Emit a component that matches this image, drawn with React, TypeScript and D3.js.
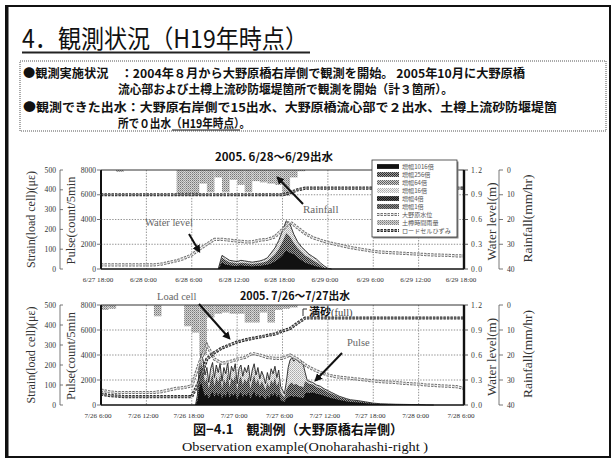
import React from 'react';
import * as d3 from 'd3';

const W = 613;
const H = 462;
const FONT_JP = '"Noto Sans CJK JP", "Noto Sans", sans-serif';
const FONT_SERIF = '"Liberation Serif", "DejaVu Serif", serif';

// Time axis: hours from the start of each 48-hour window
const hours = d3.range(49);
const xLabels1 = ['6/27 18:00', '6/28 0:00', '6/28 6:00', '6/28 12:00', '6/28 18:00', '6/29 0:00', '6/29 6:00', '6/29 12:00', '6/29 18:00'];
const xLabels2 = ['7/26 6:00', '7/26 12:00', '7/26 18:00', '7/27 0:00', '7/27 6:00', '7/27 12:00', '7/27 18:00', '7/28 0:00', '7/28 6:00'];

// Hourly rainfall (mm/hr), Dotaru gauge
const rainHours1 = [2, 10, 11, 12, 13, 14, 15, 16, 17, 18, 19, 20, 21, 22, 23, 24, 25, 26];
const rain1 = [0.8, 10.5, 10.5, 10.5, 5.5, 9, 3, 9, 4, 6, 9, 4.5, 5, 5.5, 6, 10.5, 3, 0.5];
const rainHours2 = [0, 1, 7, 11, 12, 13, 14, 15, 16, 17, 18, 19, 20, 21, 22, 23, 24, 25];
const rain2 = [2, 1.5, 4.5, 8.5, 11, 20, 5, 3.5, 3, 3.5, 3.5, 7, 7, 3, 7, 2, 1.5, 1];

// Onohara water level (m), hourly
const level1 = [0.05, 0.05, 0.05, 0.05, 0.05, 0.05, 0.05, 0.05, 0.06, 0.08, 0.10, 0.13, 0.17, 0.24, 0.30, 0.36, 0.36, 0.35, 0.34, 0.33, 0.33, 0.35, 0.36, 0.39, 0.48, 0.57, 0.50, 0.43, 0.38, 0.35, 0.32, 0.30, 0.28, 0.26, 0.245, 0.23, 0.215, 0.205, 0.20, 0.195, 0.19, 0.185, 0.18, 0.175, 0.17, 0.168, 0.165, 0.16, 0.16];
const level2 = [0.18, 0.16, 0.15, 0.15, 0.15, 0.15, 0.15, 0.15, 0.16, 0.18, 0.20, 0.21, 0.23, 0.50, 0.72, 0.55, 0.50, 0.52, 0.55, 0.57, 0.62, 0.60, 0.57, 0.56, 0.56, 0.60, 0.55, 0.48, 0.43, 0.39, 0.36, 0.34, 0.33, 0.32, 0.31, 0.30, 0.29, 0.28, 0.275, 0.27, 0.26, 0.255, 0.25, 0.24, 0.235, 0.23, 0.225, 0.22, 0.20];

// Load-cell strain (micro-strain), hourly
const strain1 = [375, 375, 375, 375, 375, 375, 375, 375, 375, 375, 375, 375, 375, 375, 375, 375, 375, 375, 375, 375, 375, 375, 375, 375, 375, 385, 400, 408, 408, 408, 408, 408, 408, 408, 408, 408, 408, 408, 408, 408, 408, 408, 408, 408, 408, 408, 408, 408, 408];
const strain2 = [55, 48, 45, 42, 42, 42, 42, 42, 42, 42, 42, 42, 42, 120, 230, 262, 285, 300, 315, 325, 333, 340, 348, 355, 370, 382, 410, 435, 435, 435, 435, 435, 435, 435, 435, 435, 435, 435, 435, 435, 435, 435, 435, 435, 435, 435, 435, 435, 435];

// Pulse counts (count/5min): outer envelope, dark-hatch level, black core level
const pulseHours1 = [15.5, 16, 16.5, 17, 17.5, 18, 18.5, 19, 19.5, 20, 20.5, 21, 21.5, 22, 22.5, 23, 23.5, 24, 24.5, 25, 25.5, 26, 26.5, 27, 27.5, 28, 28.5, 29, 29.5, 30, 30.5];
const pulseTotal1 = [0, 1100, 900, 700, 650, 600, 700, 650, 600, 550, 600, 650, 750, 900, 1300, 1700, 2300, 3100, 3900, 3600, 2800, 2200, 1800, 1500, 1200, 1000, 800, 500, 250, 60, 0];
const pulseMid1 = [0, 900, 700, 550, 500, 450, 500, 480, 450, 400, 450, 480, 550, 650, 900, 1200, 1600, 2200, 2900, 2600, 2100, 1700, 1400, 1100, 900, 700, 550, 350, 150, 30, 0];
const pulseCore1 = [0, 500, 350, 300, 250, 250, 300, 250, 250, 200, 250, 250, 300, 350, 450, 600, 800, 1100, 1500, 1300, 1200, 900, 700, 500, 400, 300, 200, 120, 60, 10, 0];

const pulseHours2 = [12.5, 12.75, 13, 13.25, 13.5, 13.75, 14, 14.25, 14.5, 14.75, 15, 15.25, 15.5, 15.75, 16, 16.25, 16.5, 16.75, 17, 17.25, 17.5, 17.75, 18, 18.25, 18.5, 18.75, 19, 19.25, 19.5, 19.75, 20, 20.25, 20.5, 20.75, 21, 21.25, 21.5, 21.75, 22, 22.25, 22.5, 22.75, 23, 23.25, 23.5, 23.75, 24, 24.25, 24.5, 24.75, 25, 25.25, 25.5, 25.75, 26, 26.25, 26.5, 26.75, 27, 27.25, 27.5, 28, 28.5, 29, 29.5, 30, 30.5, 31, 31.5, 32, 32.5, 33, 34, 35, 36, 37, 38, 39, 40, 41, 42, 43, 44];
const pulseTotal2 = [0, 800, 3200, 4100, 3600, 2400, 3000, 1800, 2900, 3400, 2200, 3200, 2600, 3300, 1900, 3000, 2500, 3400, 2000, 3100, 2700, 3300, 1700, 2900, 3200, 2300, 3000, 2600, 3200, 1900, 2800, 3300, 2400, 3000, 2100, 2700, 2300, 1700, 2600, 2000, 2900, 2500, 3100, 2200, 2800, 1500, 1200, 900, 1800, 3000, 3600, 3800, 3500, 3700, 3600, 3400, 3500, 3200, 2600, 2000, 1900, 1800, 1600, 1500, 1300, 1150, 1000, 850, 700, 600, 500, 420, 350, 250, 150, 100, 80, 60, 50, 40, 30, 10, 0];
const pulseMid2 = [0, 600, 2600, 3400, 2800, 1800, 2200, 1300, 2000, 2500, 1500, 2300, 1800, 2400, 1300, 2100, 1700, 2500, 1400, 2200, 1900, 2400, 1200, 2000, 2300, 1600, 2100, 1800, 2300, 1300, 1900, 2400, 1700, 2100, 1500, 1900, 1600, 1200, 1800, 1400, 2000, 1700, 2200, 1500, 1900, 1000, 800, 600, 1200, 1500, 1700, 1800, 1600, 1700, 1600, 1500, 1500, 1400, 1900, 1800, 1700, 1650, 1450, 1350, 1200, 1050, 900, 780, 640, 550, 460, 380, 320, 230, 140, 90, 70, 55, 45, 35, 25, 8, 0];
const pulseCore2 = [0, 300, 1400, 1800, 1200, 700, 900, 500, 800, 1100, 600, 1000, 700, 1000, 500, 900, 650, 1100, 550, 900, 700, 1000, 450, 800, 1000, 600, 900, 700, 1000, 500, 800, 1100, 650, 900, 550, 800, 650, 450, 750, 550, 900, 700, 1000, 600, 850, 400, 300, 250, 500, 600, 700, 750, 650, 700, 650, 600, 600, 550, 900, 1000, 950, 1000, 900, 850, 750, 650, 550, 480, 400, 340, 280, 240, 200, 150, 100, 70, 55, 45, 35, 30, 20, 5, 0];

// Legend entries
const legendLabels = ['増幅1016倍', '増幅256倍', '増幅64倍', '増幅16倍', '増幅4倍', '増幅1倍', '大野原水位', '土樽時間雨量', 'ロードセルひずみ'];
const legendFills = ['#111', 'url(#patDark)', 'url(#patMid)', 'url(#patLight)', 'url(#patBlack)', 'url(#patGrey)', 'bead-light', 'url(#patRain)', 'bead-dark'];

const strainTicks = [0, 100, 200, 300, 400, 500];
const pulseTicks = [0, 2000, 4000, 6000, 8000];
const levelTicks = [0, 0.3, 0.6, 0.9, 1.2];
const rainTicks = [0, 10, 20, 30, 40];

const PL = 101;
const PR = 464;

function BeadLine({ d, dark }: { d: string | null; dark?: boolean }) {
  return (
    <g fill="none">
      <path d={d || ''} stroke={dark ? '#2a2a2a' : '#707070'} strokeWidth={3.2} strokeDasharray="2.4 1.1" />
      <path d={d || ''} stroke={dark ? '#8a8a8a' : '#e8e8e8'} strokeWidth={1.2} strokeDasharray="2.4 1.1" />
    </g>
  );
}

type PanelProps = {
  top: number;
  bottom: number;
  xLabels: string[];
  rainHours: number[];
  rain: number[];
  level: number[];
  strain: number[];
  pulseHours: number[];
  pulseTotal: number[];
  pulseMid: number[];
  pulseCore: number[];
};

function Panel(p: PanelProps) {
  const { top, bottom } = p;
  const x = d3.scaleLinear().domain([0, 48]).range([PL, PR]);
  const yP = d3.scaleLinear().domain([0, 8000]).range([bottom, top]);
  const yS = d3.scaleLinear().domain([0, 500]).range([bottom, top]);
  const yW = d3.scaleLinear().domain([0, 1.2]).range([bottom, top]);
  const yR = d3.scaleLinear().domain([0, 40]).range([top, bottom]);

  const pulseArea = (vals: number[]) =>
    d3.area<number>().x((_, i) => x(p.pulseHours[i])).y0(bottom).y1((v) => yP(v))(vals);
  const hourLine = (scale: d3.ScaleLinear<number, number>, vals: number[]) =>
    d3.line<number>().x((_, i) => x(hours[i])).y((v) => scale(v))(vals);

  const mid = (top + bottom) / 2;
  const tickStyle = { fontFamily: FONT_SERIF, fontSize: 7.6, fill: '#333' } as const;

  return (
    <g>
      {/* grid */}
      {d3.range(6, 48, 6).map((h) => (
        <line key={'gx' + h} x1={x(h)} x2={x(h)} y1={top} y2={bottom} stroke="#777" strokeWidth={0.8} strokeDasharray="1.4 1.4" />
      ))}
      {[2000, 4000, 6000].map((v) => (
        <line key={'gy' + v} x1={PL} x2={PR} y1={yP(v)} y2={yP(v)} stroke="#777" strokeWidth={0.8} strokeDasharray="1.4 1.4" />
      ))}

      {/* rainfall, hanging from the top */}
      {p.rain.map((v, i) => (
        <rect key={'r' + i} x={x(p.rainHours[i])} width={x(p.rainHours[i] + 1) - x(p.rainHours[i])} y={yR(0)} height={yR(v) - yR(0)} fill="url(#patRain)" />
      ))}

      {/* pulse counts */}
      <path d={pulseArea(p.pulseTotal) || ''} fill="url(#patLight)" />
      <path d={pulseArea(p.pulseMid) || ''} fill="url(#patDark)" />
      <path d={pulseArea(p.pulseCore) || ''} fill="#111" />
      <path
        d={d3.line<number>().x((_, i) => x(p.pulseHours[i])).y((v) => yP(v))(p.pulseTotal) || ''}
        fill="none"
        stroke="#222"
        strokeWidth={0.9}
      />

      {/* water level and load-cell strain */}
      <BeadLine d={hourLine(yW, p.level)} />
      <BeadLine d={hourLine(yS, p.strain)} dark />

      {/* frame */}
      <line x1={PL} x2={PR} y1={top} y2={top} stroke="#333" strokeWidth={1} />
      <line x1={PL} x2={PR} y1={bottom} y2={bottom} stroke="#111" strokeWidth={1.6} />
      <line x1={PL} x2={PL} y1={top} y2={bottom} stroke="#111" strokeWidth={2} />
      <line x1={PR} x2={PR} y1={top} y2={bottom} stroke="#111" strokeWidth={2.4} />

      {/* x axis labels */}
      {p.xLabels.map((s, i) => (
        <text key={'xl' + i} x={x(i * 6) - 3} y={bottom + 13} textAnchor="middle" {...tickStyle} fontSize={7.1}>
          {s}
        </text>
      ))}

      {/* strain axis */}
      <line x1={60} x2={60} y1={top} y2={bottom} stroke="#555" strokeWidth={0.8} />
      {strainTicks.map((v) => (
        <g key={'st' + v}>
          <line x1={60} x2={63} y1={yS(v)} y2={yS(v)} stroke="#555" strokeWidth={0.8} />
          <text x={56} y={yS(v) + 2.6} textAnchor="end" {...tickStyle}>{v}</text>
        </g>
      ))}
      <text transform={`translate(35,${mid}) rotate(-90)`} textAnchor="middle" fontFamily={FONT_SERIF} fontSize={11.5} fill="#333" textLength={97} lengthAdjust="spacingAndGlyphs">
        Strain(load cell)(με)
      </text>

      {/* pulse axis */}
      {pulseTicks.map((v) => (
        <g key={'pt' + v}>
          <line x1={97} x2={PL} y1={yP(v)} y2={yP(v)} stroke="#555" strokeWidth={0.8} />
          <text x={96} y={yP(v) + 2.6} textAnchor="end" {...tickStyle}>{v}</text>
        </g>
      ))}
      <text transform={`translate(75,${mid + 1}) rotate(-90)`} textAnchor="middle" fontFamily={FONT_SERIF} fontSize={12} fill="#333" textLength={88} lengthAdjust="spacingAndGlyphs">
        Pulse(count/5min
      </text>

      {/* water level axis */}
      {levelTicks.map((v) => (
        <g key={'wt' + v}>
          <line x1={PR} x2={PR + 4} y1={yW(v)} y2={yW(v)} stroke="#333" strokeWidth={0.8} />
          <text x={PR + 7} y={yW(v) + 2.6} {...tickStyle} letterSpacing={0.8}>{d3.format('.1f')(v)}</text>
        </g>
      ))}
      <text transform={`translate(496,${mid + 2}) rotate(-90)`} textAnchor="middle" fontFamily={FONT_SERIF} fontSize={12} fill="#333" textLength={78} lengthAdjust="spacingAndGlyphs">
        Water level(m)
      </text>

      {/* rainfall axis */}
      <line x1={499} x2={499} y1={top} y2={bottom} stroke="#555" strokeWidth={0.8} />
      {rainTicks.map((v) => (
        <g key={'rt' + v}>
          <line x1={499} x2={503} y1={yR(v)} y2={yR(v)} stroke="#555" strokeWidth={0.8} />
          <text x={507} y={yR(v) + 2.6} {...tickStyle}>{v}</text>
        </g>
      ))}
      <text transform={`translate(532,${mid - 1}) rotate(-90)`} textAnchor="middle" fontFamily={FONT_SERIF} fontSize={12} fill="#333" textLength={88} lengthAdjust="spacingAndGlyphs">
        Rainfall(mm/hr)
      </text>
    </g>
  );
}

function Legend({ x0, y0 }: { x0: number; y0: number }) {
  const rowY = d3.scaleLinear().domain([0, legendLabels.length - 1]).range([y0 + 6.5, y0 + 70.5]);
  return (
    <g>
      <rect x={x0 + 1.5} y={y0 + 1.5} width={85} height={77} fill="#888" />
      <rect x={x0} y={y0} width={85} height={77} fill="#fff" stroke="#333" strokeWidth={0.8} />
      {legendLabels.map((s, i) => {
        const y = rowY(i);
        const f = legendFills[i];
        return (
          <g key={s}>
            {f.startsWith('bead') ? (
              <BeadLine d={`M${x0 + 5},${y} L${x0 + 27},${y}`} dark={f === 'bead-dark'} />
            ) : (
              <rect x={x0 + 5} y={y - 2.4} width={22} height={4.8} fill={f} />
            )}
            <text x={x0 + 30} y={y + 2.3} fontFamily={FONT_JP} fontSize={6.1} fill="#555">{s}</text>
          </g>
        );
      })}
    </g>
  );
}

function Arrow({ x1, y1, x2, y2 }: { x1: number; y1: number; x2: number; y2: number }) {
  return <line x1={x1} y1={y1} x2={x2} y2={y2} stroke="#111" strokeWidth={2} markerEnd="url(#arrowHead)" />;
}

export default function App() {
  return (
    <svg width={W} height={H} viewBox={`0 0 ${W} ${H}`} style={{ position: 'absolute', left: 0, top: 0, background: '#fff' }}>
      <defs>
        <pattern id="patRain" width={2} height={2} patternUnits="userSpaceOnUse">
          <rect width={2} height={2} fill="#d4d4d4" />
          <rect width={1} height={1} fill="#777" />
          <rect x={1} y={1} width={1} height={1} fill="#a0a0a0" />
        </pattern>
        <pattern id="patDark" width={2} height={2} patternUnits="userSpaceOnUse">
          <rect width={2} height={2} fill="#999" />
          <rect width={1} height={1} fill="#222" />
          <rect x={1} y={1} width={1} height={1} fill="#333" />
        </pattern>
        <pattern id="patMid" width={2} height={2} patternUnits="userSpaceOnUse">
          <rect width={2} height={2} fill="#ccc" />
          <rect width={1} height={1} fill="#555" />
          <rect x={1} y={1} width={1} height={1} fill="#666" />
        </pattern>
        <pattern id="patLight" width={2} height={2} patternUnits="userSpaceOnUse">
          <rect width={2} height={2} fill="#f2f2f2" />
          <rect width={1} height={1} fill="#aaa" />
          <rect x={1} y={1} width={1} height={1} fill="#bbb" />
        </pattern>
        <pattern id="patBlack" width={2} height={2} patternUnits="userSpaceOnUse">
          <rect width={2} height={2} fill="#555" />
          <rect width={1} height={1} fill="#111" />
          <rect x={1} y={1} width={1} height={1} fill="#111" />
        </pattern>
        <pattern id="patGrey" width={2} height={2} patternUnits="userSpaceOnUse">
          <rect width={2} height={2} fill="#888" />
          <rect width={1} height={1} fill="#333" />
          <rect x={1} y={1} width={1} height={1} fill="#444" />
        </pattern>
        <marker id="arrowHead" viewBox="0 0 10 10" refX={7} refY={5} markerWidth={4} markerHeight={4} orient="auto">
          <path d="M0,0 L10,5 L0,10 z" fill="#111" />
        </marker>
      </defs>

      {/* slide frame */}
      <rect x={6} y={6} width={604} height={451} fill="#fff" stroke="#111" strokeWidth={2} />
      <line x1={7} x2={7} y1={6} y2={457} stroke="#111" strokeWidth={3} />

      {/* heading */}
      <text x={22} y={48} fontFamily={FONT_JP} fontSize={25} fill="#111" textLength={286} lengthAdjust="spacingAndGlyphs">
        4．観測状況（H19年時点）
      </text>
      <line x1={22} x2={310} y1={52.5} y2={52.5} stroke="#222" strokeWidth={2} />

      {/* summary box */}
      <rect x={20} y={61} width={586} height={70} fill="#fff" stroke="#aaa" strokeWidth={2} strokeDasharray="1 1" />
      <g fontFamily={FONT_JP} fontSize={12} fontWeight={700} fill="#111">
        <text x={23} y={78} textLength={502} lengthAdjust="spacingAndGlyphs">●観測実施状況　：2004年８月から大野原橋右岸側で観測を開始。 2005年10月に大野原橋</text>
        <text x={118} y={94} textLength={335} lengthAdjust="spacingAndGlyphs">流心部および土樽上流砂防堰堤箇所で観測を開始（計３箇所）。</text>
        <text x={23} y={112} textLength={534} lengthAdjust="spacingAndGlyphs">●観測できた出水：大野原右岸側で15出水、大野原橋流心部で２出水、土樽上流砂防堰堤箇</text>
        <text x={118} y={128} textLength={132} lengthAdjust="spacingAndGlyphs">所で０出水（H19年時点）。</text>
      </g>
      <line x1={172} x2={240} y1={130} y2={130} stroke="#111" strokeWidth={1} />

      {/* event 1 */}
      <text x={274} y={161} textAnchor="middle" fontFamily={FONT_JP} fontSize={11} fontWeight={700} fill="#111" textLength={118} lengthAdjust="spacingAndGlyphs">
        2005. 6/28～6/29出水
      </text>
      <Panel
        top={170}
        bottom={269}
        xLabels={xLabels1}
        rainHours={rainHours1}
        rain={rain1}
        level={level1}
        strain={strain1}
        pulseHours={pulseHours1}
        pulseTotal={pulseTotal1}
        pulseMid={pulseMid1}
        pulseCore={pulseCore1}
      />
      <Legend x0={372} y0={160} />
      <text x={145} y={226} fontFamily={FONT_SERIF} fontSize={10.5} fill="#666">Water level</text>
      <Arrow x1={189} y1={234} x2={199} y2={251} />
      <text x={303} y={213} fontFamily={FONT_SERIF} fontSize={11} fill="#666">Rainfall</text>
      <Arrow x1={303} y1={204} x2={278} y2={178} />

      {/* event 2 */}
      <text x={295} y={300} textAnchor="middle" fontFamily={FONT_JP} fontSize={11} fontWeight={700} fill="#111" textLength={110} lengthAdjust="spacingAndGlyphs">
        2005. 7/26～7/27出水
      </text>
      <Panel
        top={305}
        bottom={405}
        xLabels={xLabels2}
        rainHours={rainHours2}
        rain={rain2}
        level={level2}
        strain={strain2}
        pulseHours={pulseHours2}
        pulseTotal={pulseTotal2}
        pulseMid={pulseMid2}
        pulseCore={pulseCore2}
      />
      <text x={157} y={300} fontFamily={FONT_SERIF} fontSize={10.5} fill="#666">Load cell</text>
      <Arrow x1={199} y1={304} x2={229} y2={338} />
      <polyline points="307,309 303,309 303,316" fill="none" stroke="#333" strokeWidth={1} />
      <text x={309} y={316} fontFamily={FONT_JP} fontSize={11} fontWeight={700} fill="#111">
        満砂<tspan fontFamily={FONT_SERIF} fontWeight={400} fontSize={10.5} fill="#444">(full)</tspan>
      </text>
      <text x={347} y={346} fontFamily={FONT_SERIF} fontSize={10.5} fill="#666">Pulse</text>
      <Arrow x1={342} y1={353} x2={316} y2={380} />

      {/* caption */}
      <text x={298} y={434} textAnchor="middle" fontFamily={FONT_JP} fontSize={13} fontWeight={700} fill="#111" textLength={210} lengthAdjust="spacingAndGlyphs">
        図−4.1　観測例（大野原橋右岸側）
      </text>
      <text x={305} y={451} textAnchor="middle" fontFamily={FONT_SERIF} fontSize={13} fill="#111" textLength={246} lengthAdjust="spacingAndGlyphs">
        Observation example(Onoharahashi-right )
      </text>
    </svg>
  );
}
